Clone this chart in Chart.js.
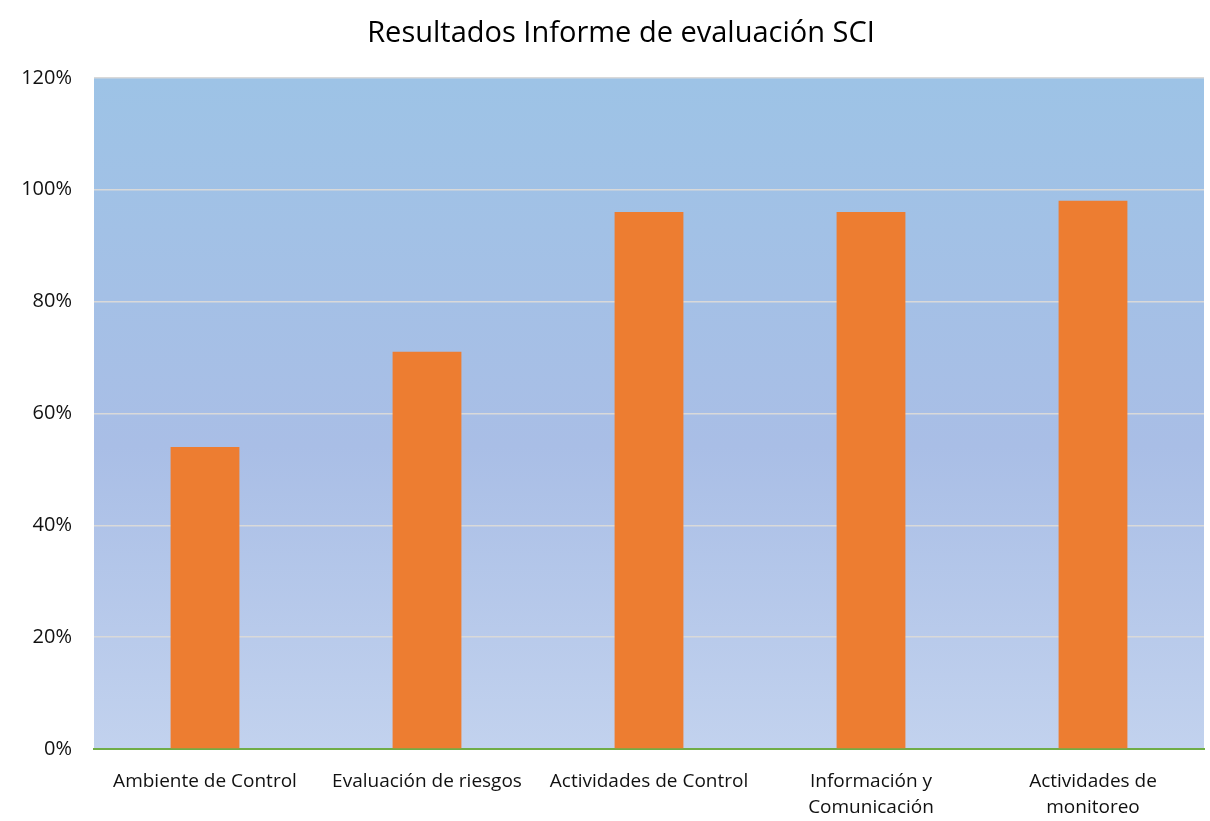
<!DOCTYPE html>
<html><head><meta charset="utf-8">
<script src="https://cdn.jsdelivr.net/npm/chart.js@4/dist/chart.umd.min.js"></script>
<style>html,body{margin:0;padding:0;background:#fff}#wrap{width:1210px;height:821px}</style>
</head><body><div id="wrap"><canvas id="c" width="1210" height="821"></canvas></div>
<script>
const categories = ["Ambiente de Control", "Evaluación de riesgos", "Actividades de Control", ["Información y", "Comunicación"], ["Actividades de", "monitoreo"]];
const values = [0.54, 0.71, 0.96, 0.96, 0.98];
const titleText = "Resultados Informe de evaluación SCI";

const bgPlugin = {
  id: 'bgGrad',
  afterLayout(chart) {
    const t = chart.titleBlock;
    if (t) { t.left += 14; t.right += 14; }
  },
  beforeDraw(chart) {
    const {ctx, chartArea: a} = chart;
    const g = ctx.createLinearGradient(0, a.top, 0, a.bottom);
    g.addColorStop(0, '#9DC3E6');
    g.addColorStop(0.55, '#A9BEE6');
    g.addColorStop(1, '#C2D2EE');
    ctx.save();
    ctx.fillStyle = g;
    ctx.fillRect(a.left, a.top, a.right - a.left, a.bottom - a.top);
    ctx.restore();
  }
};

new Chart(document.getElementById('c'), {
  type: 'bar',
  data: {
    labels: categories,
    datasets: [{
      data: values,
      backgroundColor: '#ED7D31',
      categoryPercentage: 1.0,
      barPercentage: 0.31
    }]
  },
  options: {
    responsive: false,
    animation: false,
    layout: { padding: { left: 10, right: 6, top: 0, bottom: 0 } },
    plugins: {
      legend: { display: false },
      tooltip: { enabled: false },
      title: {
        display: true,
        text: titleText,
        color: '#000',
        font: { family: 'Open Sans', size: 29, weight: 'normal', lineHeight: 1.2 },
        padding: { top: 16, bottom: 27 }
      }
    },
    scales: {
      x: {
        afterFit(s) { s.height = 72; },
        grid: { display: false },
        border: { display: true, color: '#70AD47', width: 2 },
        ticks: { color: '#111', font: { family: 'Open Sans', size: 19, lineHeight: 1.4 }, padding: 11, maxRotation: 0, autoSkip: false }
      },
      y: {
        min: 0, max: 1.2,
        afterFit(s) { s.width = 84; },
        grid: { color: '#D9D9D9', lineWidth: 1.5, drawTicks: false },
        border: { display: false },
        ticks: {
          stepSize: 0.2,
          padding: 22,
          color: '#111',
          font: { family: 'Open Sans', size: 20 },
          callback: v => Math.round(v * 100) + '%'
        }
      }
    }
  },
  plugins: [bgPlugin]
});
</script></body></html>
